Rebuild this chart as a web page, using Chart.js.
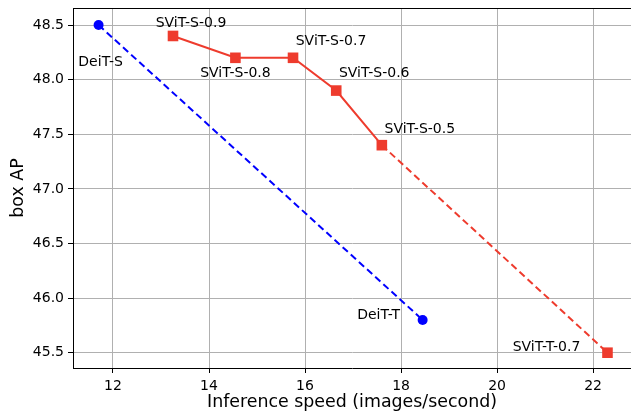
<!DOCTYPE html>
<html>
<head>
<meta charset="utf-8">
<script src="https://cdn.jsdelivr.net/npm/chart.js@4.4.0/dist/chart.umd.min.js"></script>
<style>
  html, body { margin: 0; padding: 0; background: #fff; }
  #wrap { width: 631px; height: 411px; }
</style>
</head>
<body>
<div id="wrap"><canvas id="chart"></canvas></div>
<script>
/* ── DATA ───────────────────────────────────────────────────────────── */
const deitNames  = ['DeiT-S', 'DeiT-T'];
const deitSpeed  = [11.7, 18.45];
const deitAP     = [48.5, 45.8];

const svitNames  = ['SViT-S-0.9', 'SViT-S-0.8', 'SViT-S-0.7', 'SViT-S-0.6', 'SViT-S-0.5', 'SViT-T-0.7'];
const svitSpeed  = [13.25, 14.55, 15.75, 16.65, 17.6, 22.3];
const svitAP     = [48.4, 48.2, 48.2, 47.9, 47.4, 45.5];

const xTicks = [12, 14, 16, 18, 20, 22];
const yTicks = [45.5, 46.0, 46.5, 47.0, 47.5, 48.0, 48.5];

/* ── STYLE ──────────────────────────────────────────────────────────── */
const BLUE = '#0000ff';
const RED  = '#ee3b2d';
const FONT = 'DejaVu Sans';

// pixel offsets of each point label from its marker (label centre)
const deitOff = [[2, 37], [-44, -5]];
const svitOff = [[18, -13], [0, 16], [38, -16], [38, -17], [38, -16], [-61, -5]];

const pts = (xs, ys) => xs.map((x, i) => ({ x, y: ys[i] }));

/* ── PLUGINS ────────────────────────────────────────────────────────── */
// top spine only; the right spine falls just outside the canvas
const frame = {
  id: 'frame',
  afterDraw(chart) {
    const { ctx, chartArea: a } = chart;
    ctx.save();
    ctx.strokeStyle = '#000';
    ctx.lineWidth = 1;
    ctx.beginPath();
    ctx.moveTo(a.left, Math.round(a.top) + 0.5);
    ctx.lineTo(a.right, Math.round(a.top) + 0.5);
    ctx.stroke();
    ctx.restore();
  },
};

const pointLabels = {
  id: 'pointLabels',
  afterDatasetsDraw(chart) {
    const { ctx } = chart;
    ctx.save();
    ctx.font = `14px "${FONT}"`;
    ctx.fillStyle = '#000';
    ctx.textAlign = 'center';
    ctx.textBaseline = 'middle';
    chart.data.datasets.forEach((ds, di) => {
      if (!ds.names) return;
      chart.getDatasetMeta(di).data.forEach((el, i) => {
        const [dx, dy] = ds.offsets[i];
        ctx.fillText(ds.names[i], el.x + dx, el.y + dy);
      });
    });
    ctx.restore();
  },
};

/* ── CHART ──────────────────────────────────────────────────────────── */
const tickFont = { family: FONT, size: 14 };

new Chart(document.getElementById('chart'), {
  type: 'scatter',
  data: {
    datasets: [
      {
        data: pts(deitSpeed, deitAP),
        names: deitNames, offsets: deitOff,
        showLine: true,
        borderColor: BLUE, backgroundColor: BLUE,
        borderWidth: 2, borderDash: [7, 4],
        pointStyle: 'circle', pointRadius: 5, pointBorderWidth: 0,
      },
      {
        data: pts(svitSpeed, svitAP),
        names: svitNames, offsets: svitOff,
        showLine: true,
        borderColor: RED, backgroundColor: RED,
        borderWidth: 2,
        segment: { borderDash: c => c.p0DataIndex === 4 ? [7, 4] : undefined },
        pointStyle: 'rect', pointRadius: 7.5, pointBorderWidth: 0,
      },
    ],
  },
  options: {
    responsive: true, maintainAspectRatio: false, animation: false,
    layout: { autoPadding: false, padding: { top: 8, right: 0, left: 0, bottom: 0 } },
    plugins: { legend: { display: false }, tooltip: { enabled: false } },
    scales: {
      x: {
        type: 'linear', min: 11.167, max: 22.79,
        afterFit: s => { s.height = 43; s.paddingLeft = 0; s.paddingRight = 0; },
        afterBuildTicks: s => { s.ticks = xTicks.map(v => ({ value: v })); },
        ticks: { font: tickFont, color: '#000', padding: 5, maxRotation: 0 },
        grid: { color: '#b0b0b0', lineWidth: 1, tickLength: 5, tickColor: '#000' },
        border: { color: '#000' },
        title: { display: true, text: 'Inference speed (images/second)', color: '#000',
                 font: { family: FONT, size: 17.4, lineHeight: 1 }, padding: { top: 0, bottom: 0 } },
      },
      y: {
        type: 'linear', min: 45.36, max: 48.656,
        afterFit: s => { s.width = 73; s.paddingTop = 0; s.paddingBottom = 0; },
        afterBuildTicks: s => { s.ticks = yTicks.map(v => ({ value: v })); },
        ticks: { font: tickFont, color: '#000', padding: 4, callback: v => v.toFixed(1) },
        grid: { color: '#b0b0b0', lineWidth: 1, tickLength: 5, tickColor: '#000' },
        border: { color: '#000' },
        title: { display: true, text: 'box AP', color: '#000',
                 font: { family: FONT, size: 17.4 }, padding: { top: 8, bottom: 0 } },
      },
    },
  },
  plugins: [frame, pointLabels],
});
</script>
</body>
</html>
